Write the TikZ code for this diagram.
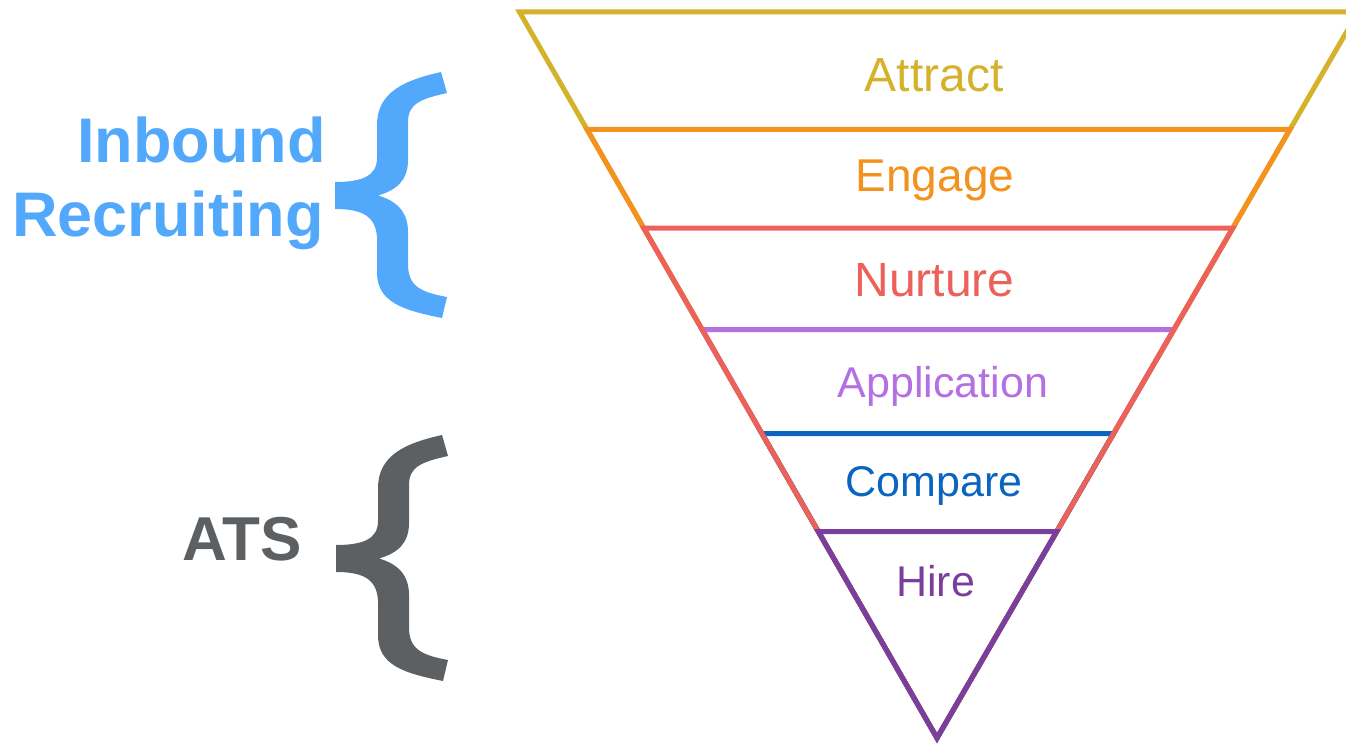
\documentclass[tikz,border=0pt]{standalone}
\usepackage{fontspec}
\setmainfont{Liberation Sans}
\definecolor{attractc}{HTML}{D4B22C}
\definecolor{engagec}{HTML}{F3921E}
\definecolor{nurturec}{HTML}{EC615A}
\definecolor{applyc}{HTML}{B46FE2}
\definecolor{comparec}{HTML}{0B64C0}
\definecolor{hirec}{HTML}{7A3F9C}
\definecolor{inboundc}{HTML}{52A8FA}
\definecolor{atsc}{HTML}{5D6063}
\begin{document}
\begin{tikzpicture}[x=1pt,y=-1pt,
  band/.style={draw=#1,line width=5pt,line join=miter,miter limit=10},
  stage/.style={text=#1,inner sep=0pt,anchor=base},
  side/.style={text=#1,inner sep=0pt,anchor=base east,font=\bfseries\fontsize{63}{63}\selectfont},
  bracefill/.style={fill=#1,draw=none}]
\useasboundingbox (0,0) rectangle (1346,749);
\clip (0,0) rectangle (1346,749);

% funnel corners
\coordinate (apex) at (937,738);
\coordinate (l1) at (519.5,12);   \coordinate (r1) at (1358.1,12);
\coordinate (l2) at (587.1,129.5);\coordinate (r2) at (1289.9,129.5);
\coordinate (l3) at (643.7,228);  \coordinate (r3) at (1232.8,228);
\coordinate (l4) at (702.1,329.5);\coordinate (r4) at (1173.9,329.5);
\coordinate (l5) at (761.9,433.5);\coordinate (r5) at (1113.6,433.5);
\coordinate (l6) at (818.3,531.5);\coordinate (r6) at (1056.8,531.5);

% nested funnel stages, later ones drawn over earlier sides
\draw[band=attractc] (l1) -- (r1) -- (apex) -- cycle;
\draw[band=engagec]  (l2) -- (r2) -- (apex) -- cycle;
\draw[band=applyc]   (l4) -- (r4) -- (apex) -- cycle;
\draw[band=comparec] (l5) -- (r5) -- (apex) -- cycle;
\draw[band=nurturec] (l3) -- (r3) -- (apex) -- cycle;
\draw[band=hirec]    (l6) -- (r6) -- (apex) -- cycle;

% stage labels
\node[stage=attractc,font=\fontsize{48}{48}\selectfont] (attract) at (934,92) {Attract};
\node[stage=engagec,font=\fontsize{46}{46}\selectfont] (engage) at (935,191) {Engage};
\node[stage=nurturec,font=\fontsize{48}{48}\selectfont] (nurture) at (934.5,296) {Nurture};
\node[stage=applyc,font=\fontsize{43}{43}\selectfont] (application) at (943,397) {Application};
\node[stage=comparec,font=\fontsize{43}{43}\selectfont] (compare) at (934,496) {Compare};
\node[stage=hirec,font=\fontsize{43}{43}\selectfont] (hire) at (935.5,596) {Hire};

% group braces
\newcommand{\groupbrace}[2]{%
  \fill[bracefill=#1,shift={#2}]
    (441,72) .. controls (405,80) and (377,92) .. (377,125)
    -- (377,158)
    .. controls (377,176) and (362,182) .. (335,182)
    -- (335,209)
    .. controls (362,209) and (376,216) .. (377,238)
    -- (377,272)
    .. controls (377,302) and (402,310) .. (442,318)
    -- (447,297)
    .. controls (420,292) and (408,286) .. (408,264)
    -- (408,232)
    .. controls (408,212) and (397,201) .. (378,195.5)
    .. controls (397,190) and (408,180) .. (408,160)
    -- (408,122)
    .. controls (408,104) and (420,99) .. (447,93)
    -- cycle;}
\groupbrace{inboundc}{(0,0)}
\groupbrace{atsc}{(1,363)}

\node[side=inboundc] (inbound) at (326,162) {Inbound};
\node[side=inboundc] (recruiting) at (324,236) {Recruiting};
\node[side=atsc,font=\bfseries\fontsize{62}{62}\selectfont] (ats) at (302,560) {ATS};
\end{tikzpicture}
\end{document}
